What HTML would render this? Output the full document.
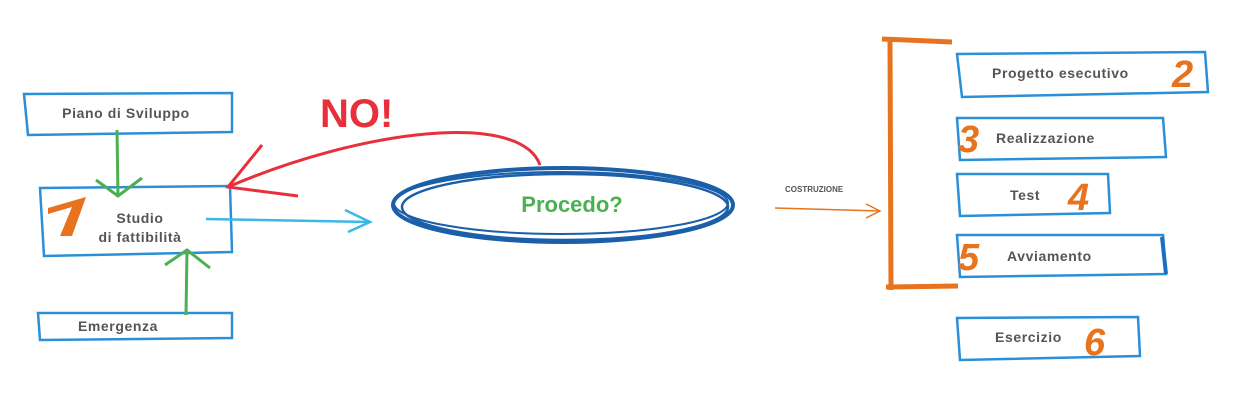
<!DOCTYPE html>
<html><head><meta charset="utf-8"><style>
html,body{margin:0;padding:0;background:#fff;width:1243px;height:410px;overflow:hidden}
svg text{font-family:"Liberation Sans",sans-serif}
.t{fill:#555;font-size:14px;font-weight:bold;letter-spacing:0.6px}
.n{fill:#e8731f;font-size:38px;font-style:italic;font-weight:bold}
.b{fill:none;stroke:#2b8fd8;stroke-width:2.5}
</style></head><body>
<svg width="1243" height="410" viewBox="0 0 1243 410">
<!-- left boxes -->
<path class="b" d="M24 94 L232 93 L232 132 L28 135 Z"/>
<text class="t" x="126" y="118" text-anchor="middle">Piano di Sviluppo</text>
<path class="b" d="M40 188 L230 186 L232 252 L44 256 Z"/>
<text class="t" x="140" y="223" text-anchor="middle">Studio</text>
<text class="t" x="140" y="242" text-anchor="middle">di fattibilità</text>
<path d="M48 208 L86 197 L72 236 L60 236 L72 207 L48 214 Z" fill="#e8731f"/>
<path class="b" d="M38 313 L232 313 L232 338 L40 340 Z"/>
<text class="t" x="118" y="331" text-anchor="middle">Emergenza</text>
<!-- green arrows -->
<g stroke="#4caf50" stroke-width="3" fill="none">
<path d="M117 130 L118 196"/><path d="M96 180 L118 196 L142 178"/>
<path d="M186 315 L187 250"/><path d="M165 265 L187 250 L210 268"/>
</g>
<!-- red arrow -->
<path d="M540 165 C520 110 360 130 228 187" stroke="#e8303c" stroke-width="3" fill="none"/>
<path d="M262 145 L228 187 L298 196" stroke="#e8303c" stroke-width="3" fill="none"/>
<text x="320" y="127" fill="#e8303c" font-size="40" font-weight="bold">NO!</text>
<!-- cyan arrow -->
<path d="M206 219 L370 222" stroke="#3bb8e6" stroke-width="2.5" fill="none"/>
<path d="M345 210 L370 222 L348 232" stroke="#3bb8e6" stroke-width="2.5" fill="none"/>
<!-- ellipse -->
<g fill="none" stroke="#1a5fa8">
<ellipse cx="563" cy="205" rx="170" ry="37" stroke-width="4"/>
<ellipse cx="565" cy="207" rx="163" ry="33" stroke-width="2.5"/>
<ellipse cx="561" cy="203" rx="167" ry="31" stroke-width="2"/>
</g>
<text x="572" y="212" text-anchor="middle" fill="#4caf50" font-size="22" font-weight="bold">Procedo?</text>
<!-- costruzione -->
<text x="785" y="192" fill="#555" font-size="8" font-weight="bold">COSTRUZIONE</text>
<path d="M775 208 L880 211" stroke="#e8731f" stroke-width="1.5" fill="none"/>
<path d="M866 204 L880 211 L866 218" stroke="#e8731f" stroke-width="1.5" fill="none"/>
<!-- bracket -->
<path d="M952 42 L882 39 M890 40 L891 290 M886 287 L958 286" stroke="#e8731f" stroke-width="5" fill="none"/>
<!-- right boxes -->
<path class="b" d="M957 54 L1205 52 L1208 92 L962 97 Z"/>
<text class="t" x="992" y="78">Progetto esecutivo</text>
<text class="n" x="1172" y="87">2</text>
<path class="b" d="M957 118 L1163 118 L1166 157 L960 160 Z"/>
<text class="t" x="996" y="143">Realizzazione</text>
<text class="n" x="958" y="152">3</text>
<path class="b" d="M957 174 L1108 174 L1110 213 L960 216 Z"/>
<text class="t" x="1010" y="200">Test</text>
<text class="n" x="1068" y="210">4</text>
<path class="b" d="M957 235 L1163 235 L1166 274 L960 277 Z"/>
<path d="M1162 237 L1166 274" stroke="#1a6fc0" stroke-width="4"/>
<text class="t" x="1007" y="261">Avviamento</text>
<text class="n" x="958" y="270">5</text>
<path class="b" d="M957 318 L1138 317 L1140 356 L960 360 Z"/>
<text class="t" x="995" y="342">Esercizio</text>
<text class="n" x="1084" y="355">6</text>
</svg>
</body></html>
